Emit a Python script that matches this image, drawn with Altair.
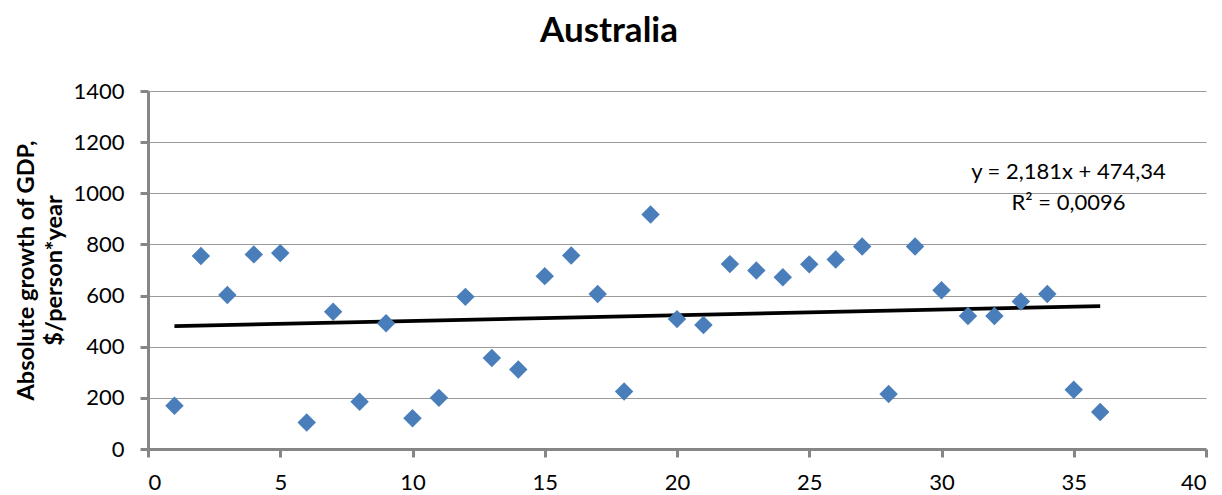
import altair as alt
import pandas as pd

years = list(range(1, 37))
growth = [169, 755, 602, 761, 766, 104, 537, 185, 492, 120,
          200, 595, 356, 311, 676, 757, 606, 225, 917, 508,
          485, 723, 698, 672, 722, 741, 792, 215, 792, 621,
          520, 520, 577, 606, 232, 145]

eq_x = [34.8, 34.8]
eq_y = [1082, 961]
eq_text = ["y = 2,181x + 474,34", "R² = 0,0096"]

df = pd.DataFrame({"x": years, "y": growth})
ann = pd.DataFrame({"x": eq_x, "y": eq_y, "t": eq_text})

FONT = "Lato"

xs = alt.Scale(domain=[0, 40], nice=False, zero=False)
ys = alt.Scale(domain=[0, 1400], nice=False)

xaxis = alt.Axis(values=list(range(0, 41, 5)), grid=False, title=None, format="d",
                 domainColor="#868686", domainWidth=3, tickColor="#868686",
                 tickWidth=3, tickSize=8, labelFontSize=22, labelFont=FONT,
                 labelColor="#000000", labelPadding=15)
yaxis = alt.Axis(values=list(range(0, 1401, 200)), grid=True, gridColor="#9a9a9a",
                 gridWidth=1.2, format="d",
                 title=["Absolute growth of GDP,", "$/person*year"],
                 titleFont=FONT, titleFontSize=23.5, titleFontWeight="bold",
                 titleColor="#000000", titleLineHeight=28, titlePadding=6,
                 domainColor="#868686", domainWidth=3, tickColor="#868686",
                 tickWidth=3, tickSize=8, labelFontSize=22, labelFont=FONT,
                 labelColor="#000000", labelPadding=16)

points = alt.Chart(df).mark_point(shape="diamond", filled=True, size=340,
                                  color="#4a7ebb", opacity=1).encode(
    x=alt.X("x:Q", scale=xs, axis=xaxis),
    y=alt.Y("y:Q", scale=ys, axis=yaxis),
)

trend = alt.Chart(df).transform_regression(
    "x", "y", method="linear", extent=[1, 36]
).mark_line(color="#000000", strokeWidth=3.8).encode(
    x=alt.X("x:Q", scale=xs),
    y=alt.Y("y:Q", scale=ys),
)

text = alt.Chart(ann).mark_text(font=FONT, fontSize=22, color="#000000",
                                align="center", baseline="middle").encode(
    x=alt.X("x:Q", scale=xs),
    y=alt.Y("y:Q", scale=ys),
    text="t:N",
)

chart = alt.layer(trend, points, text).properties(
    width=1058, height=358,
    title=alt.TitleParams("Australia", font=FONT, fontSize=35, fontWeight="bold",
                          color="#000000", anchor="middle", dx=-68, offset=31),
    autosize=alt.AutoSizeParams(type="none"),
    padding={"left": 140, "top": 83, "right": 8, "bottom": 46},
).configure_view(stroke=None)

chart.save("out.html", embed_options={"renderer": "svg", "actions": False})
